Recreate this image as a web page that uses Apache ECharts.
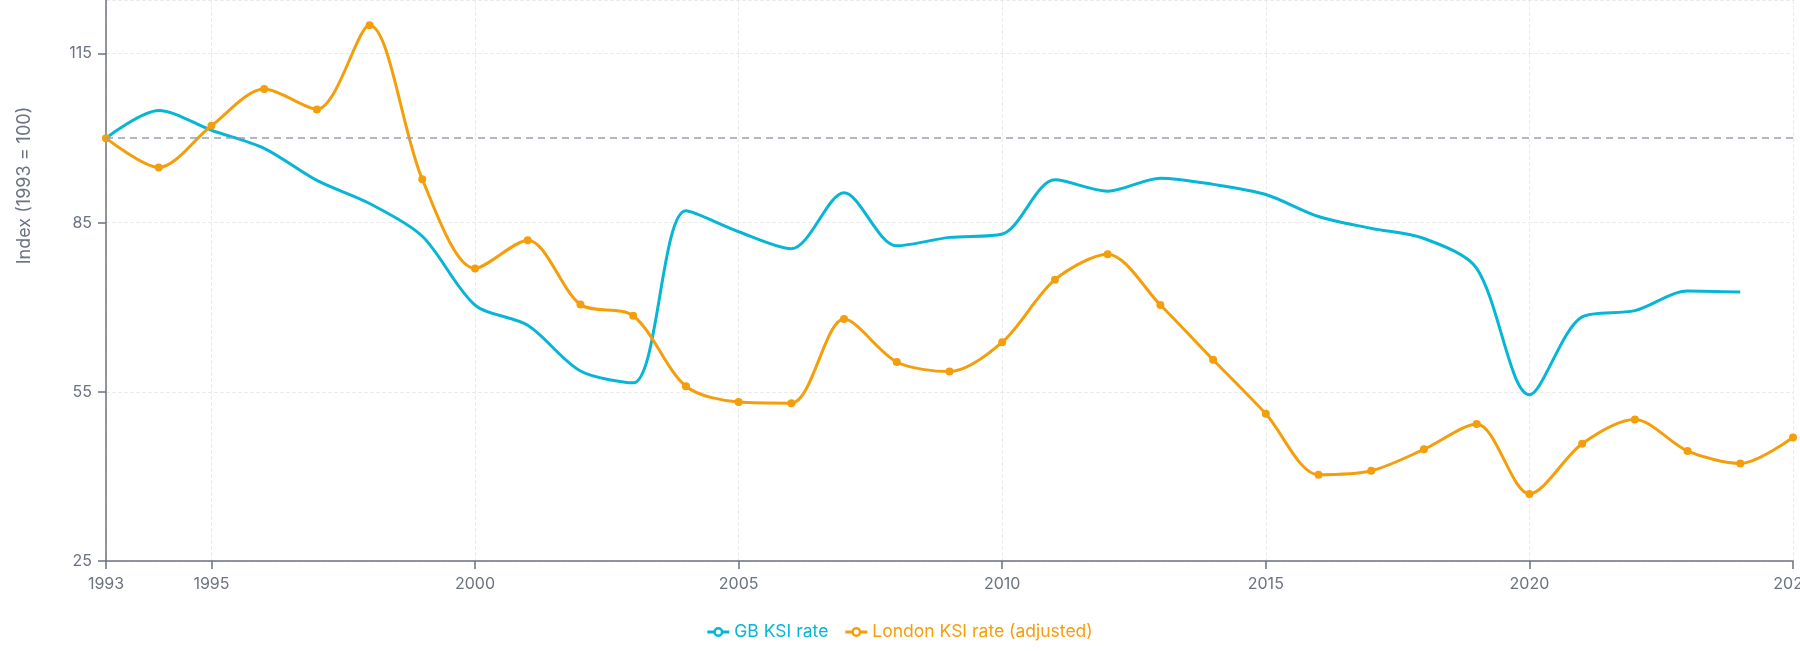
<!DOCTYPE html>
<html>
<head>
<meta charset="utf-8">
<script src="https://cdn.jsdelivr.net/npm/echarts@6/dist/echarts.min.js"></script>
<style>
  html, body { margin: 0; padding: 0; background: #fff; }
  #chart { width: 1800px; height: 651px; }
</style>
</head>
<body>
<div id="chart"></div>
<script>
// 数据 (index, 1993 = 100)
const gbYears = [1993, 1994, 1995, 1996, 1997, 1998, 1999, 2000, 2001, 2002, 2003, 2004, 2005, 2006, 2007, 2008,
  2009, 2010, 2011, 2012, 2013, 2014, 2015, 2016, 2017, 2018, 2019, 2020, 2021, 2022, 2023, 2024]
const gbValues = [100, 104.9, 101.4, 98.2, 92.5, 88.4, 82.6, 70.4, 66.8, 58.7, 56.6, 87.1, 83.4, 80.4, 90.3, 80.9,
  82.4, 83.0, 92.6, 90.6, 92.9, 91.8, 90.0, 86.1, 84.0, 82.2, 76.9, 54.5, 68.3, 69.4, 72.9, 72.7]
const londonYears = [1993, 1994, 1995, 1996, 1997, 1998, 1999, 2000, 2001, 2002, 2003, 2004, 2005, 2006, 2007, 2008,
  2009, 2010, 2011, 2012, 2013, 2014, 2015, 2016, 2017, 2018, 2019, 2020, 2021, 2022, 2023, 2024, 2025]
const londonValues = [100, 94.8, 102.2, 108.7, 105.1, 120.0, 92.7, 76.9, 81.9, 70.5, 68.5, 56.0, 53.2, 53.0, 67.9, 60.3,
  58.6, 63.8, 74.9, 79.4, 70.4, 60.7, 51.1, 40.3, 41.0, 44.8, 49.3, 36.9, 45.8, 50.1, 44.5, 42.3, 46.9]
const xTickYears = [1993, 1995, 2000, 2005, 2010, 2015, 2020, 2025]
const seriesNames = ['GB KSI rate', 'London KSI rate (adjusted)']
const baseline = 100

const colors = ['#06b6d4', '#f59e0b']
const axisColor = '#6b7280'
const font = 'Inter, "Noto Sans", sans-serif'
// 图例图标: 线 + 空心圆
const legendIcon = 'path://M0 3.5H6.5V6.5H0Z M15.5 3.5H22V6.5H15.5Z ' +
  'M6 5A5 5 0 1 1 16 5A5 5 0 1 1 6 5Z M8.5 5A2.5 2.5 0 1 0 13.5 5A2.5 2.5 0 1 0 8.5 5Z'

const myChart = echarts.init(document.getElementById('chart'))
const option = {
  animation: false,
  color: colors,
  textStyle: { fontFamily: font },
  grid: { left: 106, right: 7, top: 0, bottom: 90, outerBoundsMode: 'none', containLabel: false },
  legend: {
    bottom: 5,
    left: 'center',
    itemWidth: 22,
    itemHeight: 10,
    itemGap: 17,
    icon: legendIcon,
    data: seriesNames.map((n, i) => ({
      name: n,
      textStyle: { color: colors[i] },
    })),
    textStyle: { fontSize: 17.5, fontFamily: font },
  },
  xAxis: {
    type: 'value',
    min: 1993,
    max: 2025,
    axisLine: { lineStyle: { color: axisColor, width: 1.5 } },
    axisTick: { customValues: xTickYears, length: 8, lineStyle: { color: axisColor, width: 1.5 } },
    axisLabel: {
      customValues: xTickYears,
      formatter: (v) => String(v),
      color: axisColor,
      fontSize: 16,
      margin: 15,
    },
    splitLine: { show: true, lineStyle: { type: 'dashed', color: '#ebebeb' } },
  },
  yAxis: {
    type: 'value',
    min: 25,
    max: 124.5,
    interval: 30,
    name: 'Index (1993 = 100)',
    nameLocation: 'middle',
    nameRotate: 90,
    nameGap: 72,
    nameTextStyle: { color: axisColor, fontSize: 18, padding: [0, 0, 0, 190] },
    axisLine: { show: true, lineStyle: { color: axisColor, width: 1.5 } },
    axisTick: { show: true, length: 8, lineStyle: { color: axisColor, width: 1.5 } },
    axisLabel: { color: axisColor, fontSize: 16, margin: 14, showMaxLabel: false },
    splitLine: { show: true, lineStyle: { type: 'dashed', color: '#ebebeb' } },
  },
  series: [
    {
      name: seriesNames[0],
      type: 'line',
      smooth: 0.3,
      showSymbol: false,
      lineStyle: { width: 3 },
      data: gbYears.map((y, i) => [y, gbValues[i]]),
      markLine: {
        silent: true,
        symbol: 'none',
        label: { show: false },
        lineStyle: { type: [7, 5], color: '#9aa0ad', width: 1.5 },
        data: [{ yAxis: baseline }],
      },
      z: 3,
    },
    {
      name: seriesNames[1],
      type: 'line',
      smooth: 0.3,
      symbol: 'circle',
      symbolSize: 8,
      lineStyle: { width: 3 },
      data: londonYears.map((y, i) => [y, londonValues[i]]),
      z: 4,
    },
  ],
}
myChart.setOption(option, true)
</script>
</body>
</html>
